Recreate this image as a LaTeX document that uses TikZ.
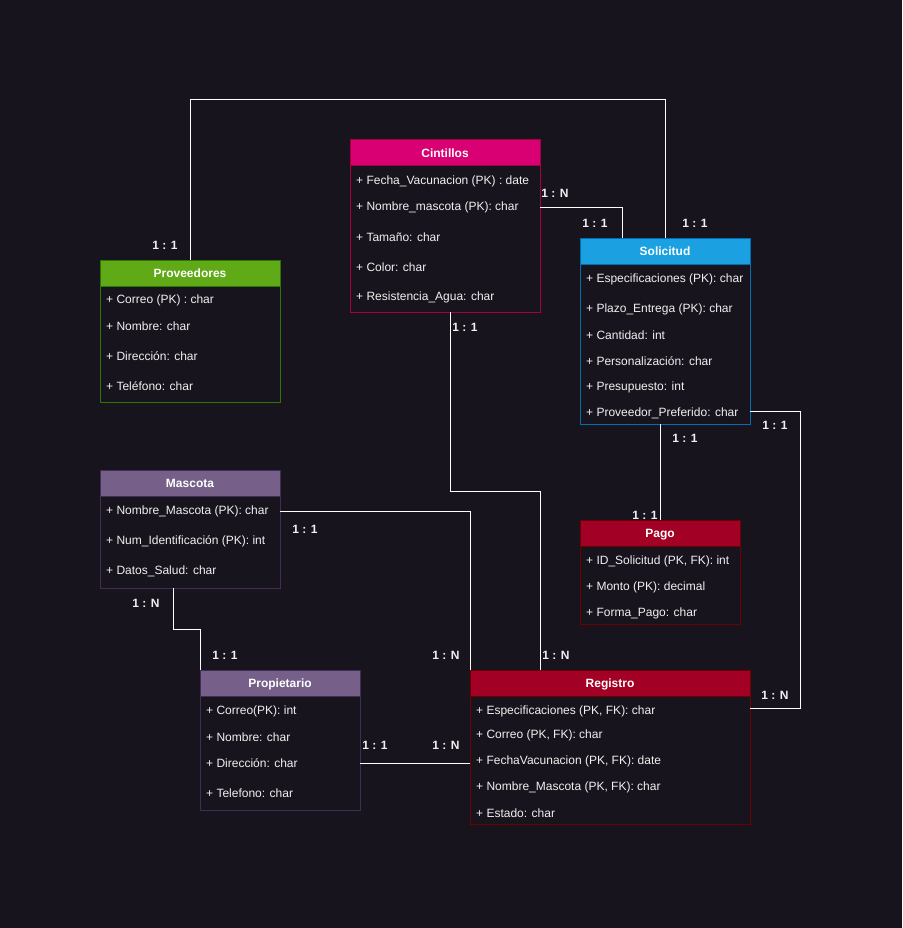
\documentclass[tikz,border=0pt]{standalone}
\usepackage{fontspec}
\setmainfont{Liberation Sans}
\usetikzlibrary{calc}
\definecolor{bg}{HTML}{18141D}
\definecolor{ink}{HTML}{F0F0F0}
\definecolor{cinfill}{HTML}{D80073}
\definecolor{cinline}{HTML}{A50040}
\definecolor{provfill}{HTML}{60A917}
\definecolor{provline}{HTML}{2D7600}
\definecolor{solfill}{HTML}{1BA1E2}
\definecolor{solline}{HTML}{006EAF}
\definecolor{petfill}{HTML}{76608A}
\definecolor{petline}{HTML}{432D57}
\definecolor{regfill}{HTML}{A20025}
\definecolor{regline}{HTML}{6F0000}
\tikzset{head/.style={draw, line width=1pt, anchor=north west, minimum height=26pt, inner sep=0pt, outer sep=0pt, text=white, text depth=0pt, font=\fontsize{12}{14}\selectfont\bfseries}}
\tikzset{body/.style={draw, line width=1pt, anchor=north, inner sep=0pt, outer sep=0pt}}
\tikzset{attr/.style={anchor=west, inner sep=0pt, yshift=-1pt, text=ink, font=\fontsize{12}{14}\selectfont}}
\tikzset{link/.style={draw=white, line width=1pt}}
\tikzset{card/.style={inner sep=0pt, text=ink, font=\fontsize{12}{14}\selectfont\bfseries}}

\begin{document}
\begin{tikzpicture}[x=1pt, y=-1pt]
\path[use as bounding box, fill=bg] (0,0) rectangle (902,928);

\node[head, fill=cinfill, draw=cinline, minimum width=190pt] (cin) at (350,140) {Cintillos};
\node[body, draw=cinline, minimum width=190pt, minimum height=146pt] (cinbox) at (cin.south) {};
\foreach \y/\t [count=\i] in {180/{+ Fecha\_Vacunacion (PK) : date}, 206/{+ Nombre\_mascota (PK): char}, 236/{+ Tamaño: char}, 266/{+ Color: char}, 296/{+ Resistencia\_Agua: char}}
  \node[attr] (cin\i) at (356,\y) {\t};

\node[head, fill=provfill, draw=provline, minimum width=180pt] (prov) at (100,260) {Proveedores};
\node[body, draw=provline, minimum width=180pt, minimum height=116pt] (provbox) at (prov.south) {};
\foreach \y/\t [count=\i] in {299/{+ Correo (PK) : char}, 325/{+ Nombre: char}, 355/{+ Dirección: char}, 385/{+ Teléfono: char}}
  \node[attr] (prov\i) at (106,\y) {\t};

\node[head, fill=solfill, draw=solline, minimum width=170pt] (sol) at (580,238) {Solicitud};
\node[body, draw=solline, minimum width=170pt, minimum height=160pt] (solbox) at (sol.south) {};
\foreach \y/\t [count=\i] in {278/{+ Especificaciones (PK): char}, 308/{+ Plazo\_Entrega (PK): char}, 334/{+ Cantidad: int}, 360/{+ Personalización: char}, 386/{+ Presupuesto: int}, 412/{+ Proveedor\_Preferido: char}}
  \node[attr] (sol\i) at (586,\y) {\t};

\node[head, fill=petfill, draw=petline, minimum width=180pt] (masc) at (100,470) {Mascota};
\node[body, draw=petline, minimum width=180pt, minimum height=92pt] (mascbox) at (masc.south) {};
\foreach \y/\t [count=\i] in {510/{+ Nombre\_Mascota (PK): char}, 540/{+ Num\_Identificación (PK): int}, 570/{+ Datos\_Salud: char}}
  \node[attr] (masc\i) at (106,\y) {\t};

\node[head, fill=regfill, draw=regline, minimum width=160pt] (pago) at (580,520) {Pago};
\node[body, draw=regline, minimum width=160pt, minimum height=78pt] (pagobox) at (pago.south) {};
\foreach \y/\t [count=\i] in {560/{+ ID\_Solicitud (PK, FK): int}, 586/{+ Monto (PK): decimal}, 612/{+ Forma\_Pago: char}}
  \node[attr] (pago\i) at (586,\y) {\t};

\node[head, fill=petfill, draw=petline, minimum width=160pt] (prop) at (200,670) {Propietario};
\node[body, draw=petline, minimum width=160pt, minimum height=114pt] (propbox) at (prop.south) {};
\foreach \y/\t [count=\i] in {710/{+ Correo(PK): int}, 736/{+ Nombre: char}, 762/{+ Dirección: char}, 792/{+ Telefono: char}}
  \node[attr] (prop\i) at (206,\y) {\t};

\node[head, fill=regfill, draw=regline, minimum width=280pt] (reg) at (470,670) {Registro};
\node[body, draw=regline, minimum width=280pt, minimum height=128pt] (regbox) at (reg.south) {};
\foreach \y/\t [count=\i] in {710/{+ Especificaciones (PK, FK): char}, 734/{+ Correo (PK, FK): char}, 760/{+ FechaVacunacion (PK, FK): date}, 786/{+ Nombre\_Mascota (PK, FK): char}, 812/{+ Estado: char}}
  \node[attr] (reg\i) at (476,\y) {\t};

\coordinate (railtop) at (0,100);
\coordinate (railmid) at (0,491);
\coordinate (railbend) at (0,629);
\coordinate (railright) at (800,0);
\coordinate (cinout) at ($(cinbox.south west)!0.53!(cinbox.south east)$);
\coordinate (solin) at ($(sol.north west)!0.25!(sol.north east)$);
\coordinate (solout) at ($(solbox.south east)+(0,-13)$);
\coordinate (regin) at ($(reg.north west)!0.25!(reg.north east)$);
\coordinate (regside) at ($(regbox.north east)+(0,12)$);
\coordinate (mascout) at ($(mascbox.south west)!0.41!(mascbox.south east)$);

\draw[link] (prov.north) -- (prov.north |- railtop) -| (sol.north);
\draw[link] (cinbox.east |- cin2) -| (solin);
\draw[link] (cinout) -- (cinout |- railmid) -| (regin);
\draw[link] (pago.north |- solbox.south) -- (pago.north);
\draw[link] (solout) -- (railright |- solout) |- (regside);
\draw[link] (mascbox.east |- masc1) -| (reg.north west);
\draw[link] (mascout) -- (mascout |- railbend) -| (prop.north west);
\draw[link] (propbox.east |- prop3) -- (regbox.west |- prop3);

\node[card] (provcard) at (165,245) {1 : 1};
\node[card] (soltopcard) at (695,223) {1 : 1};
\node[card] (cinsidecard) at (555,193) {1 : N};
\node[card] (solleftcard) at (595,223) {1 : 1};
\node[card] (cinlowcard) at (465,327) {1 : 1};
\node[card] (regtopcard) at (556,655) {1 : N};
\node[card] (sollowcard) at (685,438) {1 : 1};
\node[card] (pagocard) at (645,515) {1 : 1};
\node[card] (solsidecard) at (775,425) {1 : 1};
\node[card] (regsidecard) at (775,695) {1 : N};
\node[card] (masccard) at (305,529) {1 : 1};
\node[card] (regleftcard) at (446,655) {1 : N};
\node[card] (masclowcard) at (146,603) {1 : N};
\node[card] (proptopcard) at (225,655) {1 : 1};
\node[card] (propsidecard) at (375,745) {1 : 1};
\node[card] (reglowcard) at (446,745) {1 : N};
\end{tikzpicture}
\end{document}
